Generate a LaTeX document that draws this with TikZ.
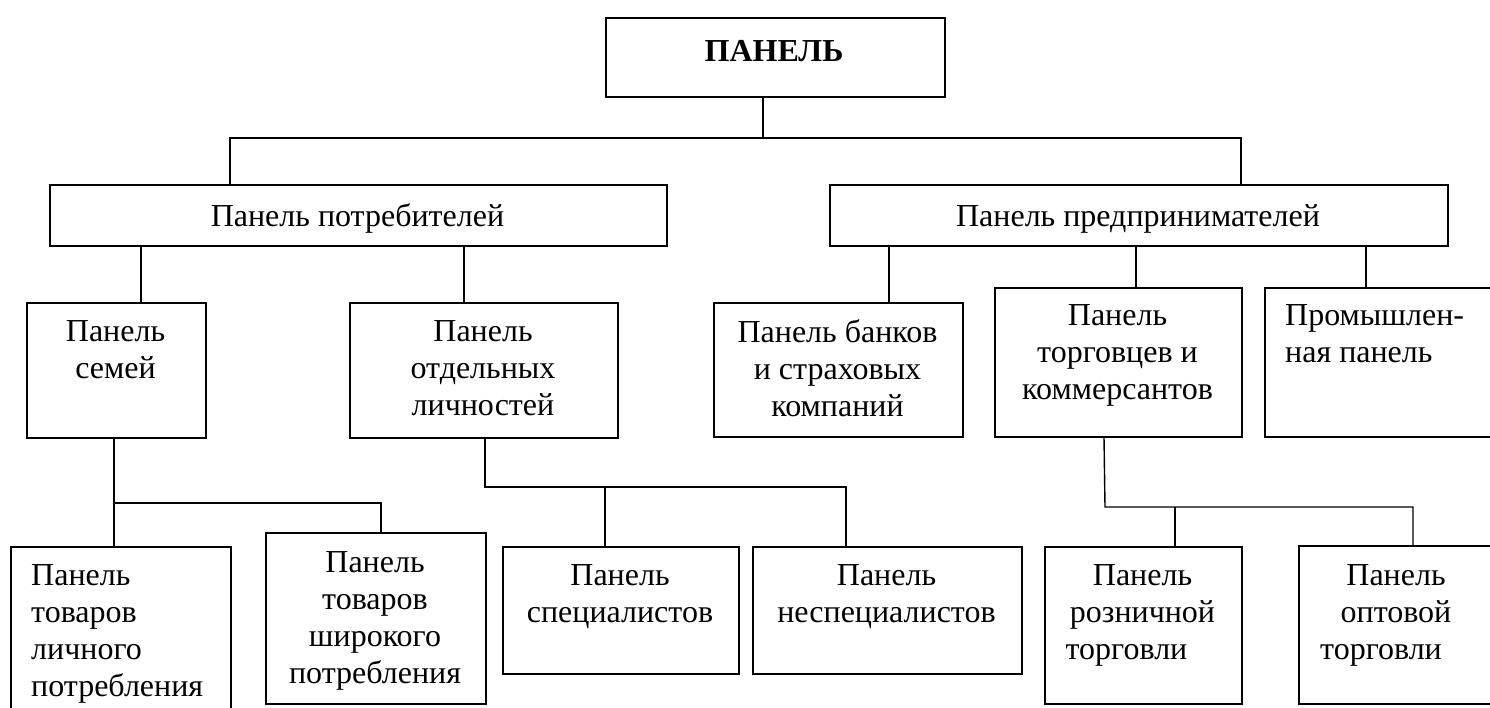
\documentclass[tikz,border=0pt]{standalone}
\usepackage{fontspec}
\setmainfont{Liberation Serif}
\begin{document}
\begin{tikzpicture}[x=1pt,y=-1pt,
  box/.style={draw, line width=1.8pt, inner sep=0pt, anchor=north west},
  link/.style={line width=1.4pt},
  txt/.style={inner sep=0pt, align=center, anchor=north, font=\fontsize{32}{37}\selectfont},
  ltxt/.style={inner sep=0pt, align=left, anchor=north west, font=\fontsize{32}{37}\selectfont},
  btxt/.style={inner sep=0pt, anchor=base, font=\fontsize{32}{37}\selectfont}]
\path[use as bounding box] (0,0) rectangle (1490,707);
% boxes
\node[box, minimum width=339pt, minimum height=79pt] (root) at (605,17) {};
\node[box, minimum width=617pt, minimum height=61pt] (cons) at (49,184) {};
\node[box, minimum width=618pt, minimum height=61pt] (ent) at (829,184) {};
\node[box, minimum width=179pt, minimum height=135pt] (fam) at (26,302) {};
\node[box, minimum width=268pt, minimum height=135pt] (ind) at (349,302) {};
\node[box, minimum width=249pt, minimum height=134pt] (bank) at (713,302) {};
\node[box, minimum width=247pt, minimum height=149pt] (trade) at (994,287) {};
\node[box, minimum width=236pt, minimum height=149pt] (indus) at (1264,287) {};
\node[box, minimum width=220pt, minimum height=170pt] (goodsA) at (10,546) {};
\node[box, minimum width=220pt, minimum height=171pt] (goodsB) at (265,532) {};
\node[box, minimum width=236pt, minimum height=127pt] (spec) at (502,546) {};
\node[box, minimum width=269pt, minimum height=127pt] (nonspec) at (752,546) {};
\node[box, minimum width=197pt, minimum height=157pt] (retail) at (1044,546) {};
\node[box, minimum width=202pt, minimum height=158pt] (whole) at (1298,545) {};
% texts
\node[btxt, font=\fontsize{32}{38}\selectfont\bfseries] (root-t) at (774,61) {ПАНЕЛЬ};
\node[btxt] (cons-t) at (357.5,226) {Панель потребителей};
\node[btxt] (ent-t) at (1138,226) {Панель предпринимателей};
\node[txt] (fam-t) at (115.5,316) {\rule{0pt}{25pt}Панель\\семей};
\node[txt] (ind-t) at (483,316) {\rule{0pt}{25pt}Панель\\отдельных\\личностей};
\node[txt] (bank-t) at (837.5,317) {\rule{0pt}{25pt}Панель банков\\и страховых\\компаний};
\node[txt] (trade-t) at (1117.5,300) {\rule{0pt}{25pt}Панель\\торговцев и\\коммерсантов};
\node[ltxt] (indus-t) at (1285,300) {\rule{0pt}{25pt}Промышлен-\\ная панель};
\node[ltxt] (goodsA-t) at (31,560) {\rule{0pt}{25pt}Панель\\товаров\\личного\\потребления};
\node[txt] (goodsB-t) at (375,547) {\rule{0pt}{25pt}Панель\\товаров\\широкого\\потребления};
\node[txt] (spec-t) at (620,560) {\rule{0pt}{25pt}Панель\\специалистов};
\node[txt] (nonspec-t) at (886.5,560) {\rule{0pt}{25pt}Панель\\неспециалистов};
\node[txt] (retail-t) at (1142.5,560) {\rule{0pt}{25pt}Панель\\розничной\\торговли\hspace*{32pt}};
\node[txt] (whole-t) at (1396,560) {\rule{0pt}{25pt}Панель\\оптовой\\торговли\hspace*{30pt}};
% junction coordinates
\coordinate (j0) at (763,138);
\coordinate (jL) at (230,138);
\coordinate (jR) at (1241,138);
\coordinate (c1) at (141,0);
\coordinate (c2) at (464,0);
\coordinate (e1) at (889,0);
\coordinate (e2) at (1136,0);
\coordinate (e3) at (1366,0);
\coordinate (fj) at (114,503);
\coordinate (fk) at (381,503);
\coordinate (ij) at (485,487);
\coordinate (is) at (605,487);
\coordinate (ik) at (846,487);
\coordinate (tj) at (1105,507);
\coordinate (ts) at (1175,507);
\coordinate (tk) at (1413,507);
% connectors
\draw[link] (root.south -| j0) -- (j0);
\draw[link] (cons.north -| jL) -- (jL) -- (jR) -- (ent.north -| jR);
\draw[link] (cons.south -| c1) -- (fam.north -| c1);
\draw[link] (cons.south -| c2) -- (ind.north -| c2);
\draw[link] (ent.south -| e1) -- (bank.north -| e1);
\draw[link] (ent.south -| e2) -- (trade.north -| e2);
\draw[link] (ent.south -| e3) -- (indus.north -| e3);
\draw[link] (fam.south -| fj) -- (goodsA.north -| fj);
\draw[link] (fj) -- (fk) -- (goodsB.north -| fk);
\draw[link] (ind.south -| ij) -- (ij) -- (ik) -- (nonspec.north -| ik);
\draw[link] (is) -- (spec.north -| is);
\draw[link] ([xshift=-1pt]trade.south -| tj) -- (tj) -- (tk) -- (whole.north -| tk);
\draw[link] (ts) -- (retail.north -| ts);
\end{tikzpicture}
\end{document}
